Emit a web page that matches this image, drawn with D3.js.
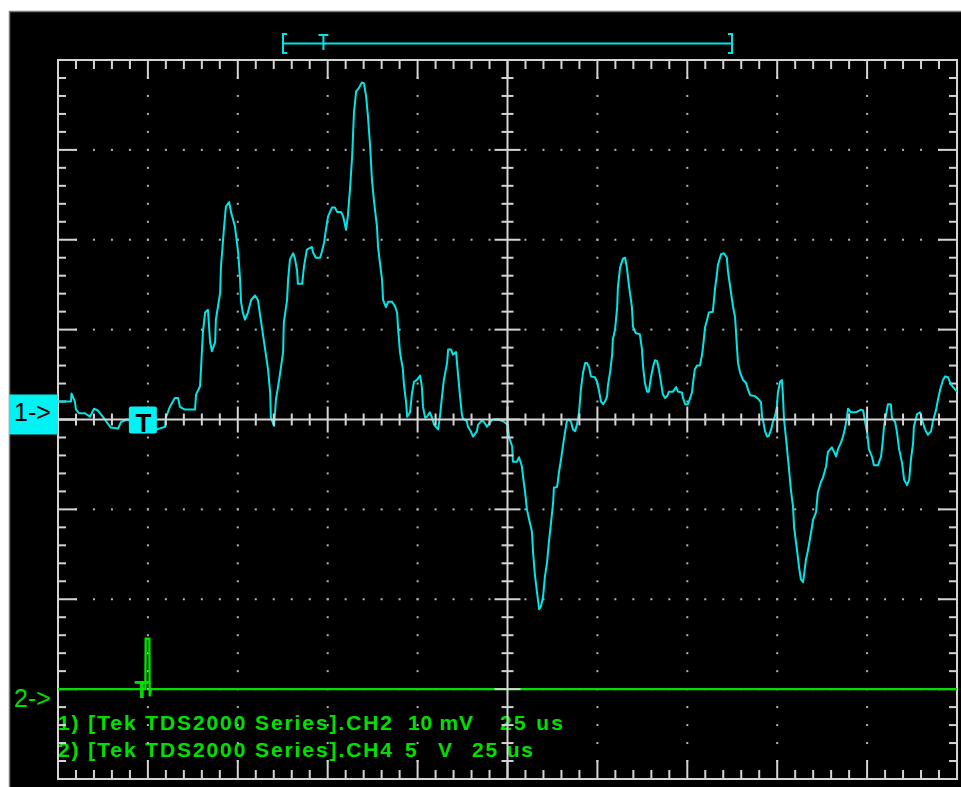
<!DOCTYPE html>
<html>
<head>
<meta charset="utf-8">
<script src="https://cdn.jsdelivr.net/npm/d3@7"></script>
<style>
  html, body { margin: 0; padding: 0; background: #ffffff; }
  svg { display: block; }
</style>
</head>
<body>
<svg id="scope" width="961" height="787"></svg>
<script>
// ---- Channel 1 record: [time (us), amplitude (mV)] ----
const ch1Trace = [
  [0,2.0],[3.6,2.0],[3.75,2.9],[4.7,2.0],[5.0,1.1],[5.8,0.7],[7.5,0.7],[8.9,0.3],[10.0,1.2],[11.1,1.0],
  [12.5,0.3],[14.7,-0.9],[16.7,-1.0],[17.5,-0.3],[19.2,0.0],[22.8,-0.5],[27.5,-1.1],[29.8,-0.8],[30.0,0.2],[31.1,1.4],
  [32.5,2.4],[33.4,2.4],[33.9,1.4],[35.3,1.1],[38.1,1.1],[38.4,2.8],[39.5,3.7],[39.8,5.9],[40.3,9.7],[40.9,11.9],
  [41.7,12.2],[42.3,8.6],[42.8,7.6],[43.7,8.6],[43.9,11.1],[45.1,14.1],[45.3,16.9],[46.2,21.5],[46.7,23.7],[47.6,24.2],
  [48.1,23.1],[49.2,21.5],[50.1,18.6],[50.6,15.8],[50.9,13.1],[51.4,11.9],[52.0,11.1],[52.8,11.9],[53.7,13.3],[54.8,13.8],
  [55.6,13.3],[56.5,10.8],[57.6,7.8],[58.4,5.6],[59.0,3.0],[59.2,0.2],[60.1,-0.7],[60.6,2.2],[61.5,4.4],[62.6,7.5],
  [62.8,10.8],[63.7,13.3],[64.0,15.6],[64.5,17.8],[65.4,18.5],[65.9,17.9],[66.5,16.5],[66.7,15.1],[67.9,15.1],[68.4,17.0],
  [69.2,18.9],[70.6,19.2],[70.9,18.6],[71.7,18.0],[72.9,18.0],[73.4,18.7],[74.0,19.7],[74.5,21.1],[75.1,22.6],[76.2,23.6],
  [77.0,23.6],[77.6,23.1],[78.7,23.1],[79.3,22.6],[80.1,21.1],[80.6,22.6],[81.2,25.6],[81.8,29.3],[82.3,34.1],[82.9,36.5],
  [83.7,36.9],[84.5,37.5],[85.1,37.4],[85.7,35.9],[86.2,33.7],[86.8,30.4],[87.3,26.7],[87.9,24.2],[88.7,21.5],[89.0,19.2],
  [89.5,17.5],[90.1,15.6],[90.4,13.3],[91.2,12.5],[91.8,13.1],[92.9,13.1],[93.7,12.6],[94.3,11.9],[94.6,10.0],[95.1,7.5],
  [95.9,5.6],[96.2,3.9],[96.8,1.9],[97.1,0.3],[97.9,0.8],[98.4,2.8],[99.0,4.2],[99.8,4.4],[100.7,4.9],[101.2,3.6],
  [101.5,1.4],[102.1,0.2],[102.6,0.3],[103.4,0.8],[104.0,0.2],[104.6,-0.6],[105.7,-1.1],[106.2,0.3],[106.8,2.6],[107.3,4.4],
  [108.2,6.3],[108.5,7.8],[109.3,7.8],[109.8,7.2],[110.7,7.5],[111.2,5.2],[111.8,2.6],[112.3,0.6],[112.6,0.1],[113.7,-0.2],
  [114.0,-0.8],[114.9,-1.4],[115.4,-1.9],[116.5,-1.3],[116.8,-0.6],[117.9,-0.1],[118.5,-0.3],[119.3,-0.8],[120.1,-0.3],[121.0,0.0],
  [122.4,0.0],[123.8,-0.2],[125.1,-0.6],[125.4,-1.9],[126.3,-3.0],[126.5,-4.7],[127.6,-4.7],[128.2,-4.2],[129.0,-5.2],[129.3,-6.3],
  [129.9,-8.1],[130.4,-10.0],[131.0,-11.1],[131.8,-12.5],[132.1,-14.7],[132.6,-17.2],[133.2,-19.2],[133.8,-21.1],[134.3,-20.8],[134.9,-19.7],
  [135.4,-17.5],[136.0,-15.9],[136.5,-13.7],[137.1,-11.5],[137.7,-9.2],[137.9,-7.6],[138.8,-7.5],[139.3,-5.9],[139.9,-4.4],[140.4,-3.0],
  [141.0,-1.4],[141.5,-0.2],[142.1,0.0],[142.7,-0.3],[143.2,-1.1],[143.8,-1.3],[144.3,-0.6],[144.9,0.8],[145.4,3.3],[146.0,5.2],
  [146.6,6.3],[147.1,6.3],[147.7,5.8],[148.2,4.8],[149.3,4.7],[149.9,4.2],[150.4,3.3],[151.0,2.0],[151.6,1.7],[152.1,2.0],
  [152.7,2.6],[152.9,3.7],[153.5,5.2],[154.1,7.2],[154.3,8.9],[154.9,10.0],[155.5,12.5],[155.7,14.7],[156.3,16.9],[157.1,17.9],
  [157.7,18.0],[158.2,16.9],[158.8,14.8],[159.6,12.5],[159.9,10.3],[160.7,9.6],[161.8,9.5],[162.4,7.8],[162.7,5.9],[163.2,4.1],
  [163.8,3.1],[164.3,3.1],[164.9,4.7],[165.5,5.9],[166.0,6.6],[166.6,6.5],[167.1,5.6],[167.7,4.1],[168.2,2.8],[168.8,2.4],
  [169.4,2.6],[169.9,3.1],[171.0,3.1],[171.9,3.6],[172.4,3.1],[173.5,3.0],[173.8,2.4],[174.4,1.7],[175.2,1.7],[175.8,2.4],
  [176.3,3.0],[176.6,4.1],[177.1,5.6],[177.7,6.0],[178.5,6.0],[179.1,7.2],[179.6,8.9],[179.9,10.2],[180.5,11.1],[181.0,11.9],
  [182.1,12.0],[182.7,14.5],[183.3,16.4],[183.5,17.2],[184.4,18.4],[185.2,18.5],[186.0,18.0],[186.3,16.5],[186.9,14.8],[187.7,12.6],
  [188.3,11.3],[188.8,8.1],[189.1,6.3],[189.7,5.2],[190.5,4.4],[191.3,4.1],[191.9,3.3],[192.5,2.7],[193.8,2.6],[194.7,2.3],
  [195.5,1.9],[195.8,0.3],[196.1,-0.2],[196.6,-1.3],[197.2,-1.9],[197.7,-1.8],[198.3,-1.1],[198.8,-0.3],[199.4,0.4],[199.9,1.4],
  [200.2,3.0],[200.8,4.2],[201.3,4.4],[201.6,2.6],[201.9,0.0],[202.4,-1.9],[202.7,-3.1],[203.3,-5.6],[203.8,-7.8],[204.4,-9.7],
  [204.7,-12.0],[205.5,-14.5],[206.1,-16.5],[206.6,-17.8],[207.2,-18.1],[207.5,-17.2],[208.0,-15.6],[208.6,-14.5],[209.1,-13.3],[209.7,-11.9],
  [210.0,-11.1],[210.8,-10.3],[211.3,-8.1],[212.2,-6.9],[212.7,-6.5],[213.6,-5.2],[214.1,-3.6],[215.2,-3.1],[215.8,-3.6],[216.4,-4.1],
  [216.9,-3.3],[217.7,-2.6],[218.3,-1.9],[218.9,-0.9],[219.4,0.3],[219.7,1.2],[220.5,0.8],[221.9,0.8],[223.3,1.1],[223.9,1.0],
  [224.4,-0.2],[225.0,-1.4],[225.5,-3.3],[226.4,-4.2],[226.9,-5.1],[228.0,-5.1],[228.9,-4.1],[229.4,-2.2],[229.7,-0.8],[230.3,0.6],
  [230.8,1.7],[231.6,1.7],[231.9,0.2],[232.8,-0.3],[233.3,-1.4],[233.9,-3.3],[234.7,-4.8],[235.3,-6.7],[236.1,-7.3],[236.7,-6.7],
  [237.2,-4.4],[237.8,-2.6],[238.0,-0.8],[238.9,0.6],[239.7,0.8],[240.5,-0.3],[241.1,-1.1],[241.9,-1.7],[242.8,-1.3],[243.3,-0.2],
  [244.2,1.1],[244.7,2.2],[245.3,3.3],[246.1,4.4],[246.7,4.8],[247.5,4.7],[248.3,3.9],[248.9,3.6],[250,3.1]
];

// ---- Channel 2 record: [time (us), volts] ----
const ch2Trace = [[0,0],[24.3,0],[24.4,2.8],[25.4,2.8],[25.5,-0.4],[25.8,0],[250,0]];

// ---- Channel readout lines: [source, volts/div, time/div] ----
const readoutSources = ["1) [Tek TDS2000 Series].CH2", "2) [Tek TDS2000 Series].CH4"];
const readoutScales  = ["10 mV", "5  V"];
const readoutTimes   = ["25 us", "25 us"];

// ---- Acquisition settings ----
const timePerDiv = 25;     // us
const ch1PerDiv = 10;      // mV
const ch2PerDiv = 5;       // V
const ch2OffsetDiv = -3;   // ground marker of channel 2, in divisions
const triggerTime = 23.6;  // us
const recordTrigger = 0.09; // trigger position within the record bar
const hDivs = 10, vDivs = 8, subDivs = 5;

// ---- Layout ----
const W = 961, H = 787;
const plot = { left: 58, top: 60, right: 957, bottom: 779 };
const CYAN = "#00e6e6", CYAN_BOX = "#00f2f2", GREEN = "#00e000";
const GRID = "#d4d4d4", DOT = "#b4b4b4";
const FONT = "'Liberation Sans', Arial, sans-serif";

const svg = d3.select("#scope");

const x = d3.scaleLinear().domain([0, hDivs * timePerDiv]).range([plot.left, plot.right]);
const y1 = d3.scaleLinear().domain([-vDivs / 2 * ch1PerDiv, vDivs / 2 * ch1PerDiv]).range([plot.bottom, plot.top]);
const y2 = d3.scaleLinear()
  .domain([(-vDivs / 2 - ch2OffsetDiv) * ch2PerDiv, (vDivs / 2 - ch2OffsetDiv) * ch2PerDiv])
  .range([plot.bottom, plot.top]);
// division scales for the graticule
const gx = d3.scaleLinear().domain([0, hDivs]).range([plot.left, plot.right]);
const gy = d3.scaleLinear().domain([-vDivs / 2, vDivs / 2]).range([plot.bottom, plot.top]);

// screen frame
svg.append("rect").attr("x", 9.5).attr("y", 11.5).attr("width", W).attr("height", H)
  .attr("fill", "#000").attr("stroke", "#7a7a7a").attr("stroke-width", 1.5);

svg.append("clipPath").attr("id", "plotClip").append("rect")
  .attr("x", plot.left).attr("y", plot.top)
  .attr("width", plot.right - plot.left).attr("height", plot.bottom - plot.top);

// ---- record bar with trigger position ----
const rec = d3.scaleLinear().domain([0, 1]).range([283, 732]);
const bar = svg.append("g").attr("stroke", CYAN).attr("stroke-width", 2).attr("fill", "none");
bar.append("path").attr("d", `M${rec(0) + 4},34 H${rec(0)} V53 H${rec(0) + 4}`);
bar.append("path").attr("d", `M${rec(1) - 4},34 H${rec(1)} V53 H${rec(1) - 4}`);
bar.append("line").attr("x1", rec(0)).attr("x2", rec(1)).attr("y1", 43.5).attr("y2", 43.5);
bar.append("path").attr("d", `M${rec(recordTrigger) - 5},35 H${rec(recordTrigger) + 5} M${rec(recordTrigger)},35 V50`);

// ---- readout text (drawn under the graticule) ----
const cols = [
  { x: [58, 58], len: [334, 334] },
  { x: [408, 405], len: [65, 47] },
  { x: [500, 472], len: [63, 61] }
];
const rowsY = [730, 757];
const readout = svg.append("g").attr("font-family", FONT).attr("font-weight", "bold")
  .attr("font-size", 21).attr("fill", GREEN);
[readoutSources, readoutScales, readoutTimes].forEach((col, c) => {
  col.forEach((txt, r) => {
    readout.append("text").attr("x", cols[c].x[r]).attr("y", rowsY[r])
      .attr("textLength", cols[c].len[r]).attr("lengthAdjust", "spacing")
      .style("white-space", "pre")
      .text(txt);
  });
});

// ---- graticule: dotted division lines ----
const grid = svg.append("g");
const minorX = d3.range(0, hDivs * subDivs + 1).map(i => i / subDivs);
const minorY = d3.range(-vDivs / 2 * subDivs, vDivs / 2 * subDivs + 1).map(i => i / subDivs);
const isMajor = v => Math.abs(v - Math.round(v)) < 1e-6;

d3.range(1, hDivs).filter(k => k !== hDivs / 2).forEach(k => {
  grid.selectAll(null).data(minorY.slice(1, -1)).join("rect")
    .attr("x", gx(k) - 1).attr("y", d => gy(d) - 1).attr("width", 2).attr("height", 2).attr("fill", DOT);
});
d3.range(-vDivs / 2 + 1, vDivs / 2).filter(k => k !== 0).forEach(k => {
  grid.selectAll(null).data(minorX.slice(1, -1)).join("rect")
    .attr("x", d => gx(d) - 1).attr("y", gy(k) - 1).attr("width", 2).attr("height", 2).attr("fill", DOT);
});

// ---- graticule: edge ticks and border ----
const edge = svg.append("g").attr("stroke", GRID).attr("stroke-width", 2);
minorX.slice(1, -1).forEach(d => {
  const L = isMajor(d) ? 19 : 9;
  edge.append("line").attr("x1", gx(d)).attr("x2", gx(d)).attr("y1", plot.top).attr("y2", plot.top + L);
  edge.append("line").attr("x1", gx(d)).attr("x2", gx(d)).attr("y1", plot.bottom).attr("y2", plot.bottom - L);
});
minorY.slice(1, -1).forEach(d => {
  const L = isMajor(d) ? 19 : 8;
  edge.append("line").attr("x1", plot.left).attr("x2", plot.left + L).attr("y1", gy(d)).attr("y2", gy(d));
  edge.append("line").attr("x1", plot.right).attr("x2", plot.right - L).attr("y1", gy(d)).attr("y2", gy(d));
});
edge.append("rect").attr("x", plot.left).attr("y", plot.top)
  .attr("width", plot.right - plot.left).attr("height", plot.bottom - plot.top)
  .attr("fill", "none");

// ---- traces ----
const traces = svg.append("g").attr("clip-path", "url(#plotClip)");
traces.append("path").datum(ch2Trace)
  .attr("d", d3.line().x(d => x(d[0])).y(d => y2(d[1])))
  .attr("fill", "none").attr("stroke", GREEN).attr("stroke-width", 2.4);
traces.append("path").datum(ch1Trace)
  .attr("d", d3.line().x(d => x(d[0])).y(d => y1(d[1])))
  .attr("fill", "none").attr("stroke", CYAN).attr("stroke-width", 2).attr("stroke-linejoin", "round");

// channel 2 trigger glyph
svg.append("text").attr("x", x(triggerTime) - 1).attr("y", y2(0) + 9)
  .attr("text-anchor", "middle").attr("font-family", FONT).attr("font-weight", "bold").attr("font-size", 24)
  .attr("fill", GREEN).text("T");

// ---- graticule: center cross with its ticks ----
const cross = svg.append("g").attr("stroke", GRID).attr("stroke-width", 2);
cross.append("line").attr("x1", plot.left).attr("x2", plot.right).attr("y1", gy(0)).attr("y2", gy(0));
cross.append("line").attr("x1", gx(hDivs / 2)).attr("x2", gx(hDivs / 2)).attr("y1", plot.top).attr("y2", plot.bottom);
minorX.slice(1, -1).forEach(d => {
  const L = isMajor(d) ? 13 : 6;
  cross.append("line").attr("x1", gx(d)).attr("x2", gx(d)).attr("y1", gy(0) - L).attr("y2", gy(0) + L);
});
minorY.slice(1, -1).forEach(d => {
  const L = isMajor(d) ? 13 : 6;
  cross.append("line").attr("x1", gx(hDivs / 2) - L).attr("x2", gx(hDivs / 2) + L).attr("y1", gy(d)).attr("y2", gy(d));
});
cross.append("line").attr("x1", plot.left).attr("x2", plot.left + 19).attr("y1", gy(0)).attr("y2", gy(0));

// ---- channel and trigger markers ----
const g1 = y1(0);
svg.append("rect").attr("x", 9).attr("y", g1 - 25).attr("width", plot.left - 9).attr("height", 40).attr("fill", CYAN_BOX);
svg.append("text").attr("x", 14).attr("y", g1 + 1).attr("font-family", FONT).attr("font-size", 25)
  .attr("fill", "#000").text("1->");

svg.append("text").attr("x", 14).attr("y", y2(0) + 18).attr("font-family", FONT).attr("font-size", 25)
  .attr("fill", GREEN).text("2->");

const tx = x(triggerTime);
svg.append("rect").attr("x", tx - 14).attr("y", g1 - 13).attr("width", 28).attr("height", 27)
  .attr("rx", 2).attr("fill", CYAN_BOX);
svg.append("text").attr("x", tx + 0.5).attr("y", g1 + 12).attr("text-anchor", "middle")
  .attr("font-family", FONT).attr("font-weight", "bold").attr("font-size", 26)
  .attr("fill", "#000").text("T");
</script>
</body>
</html>
